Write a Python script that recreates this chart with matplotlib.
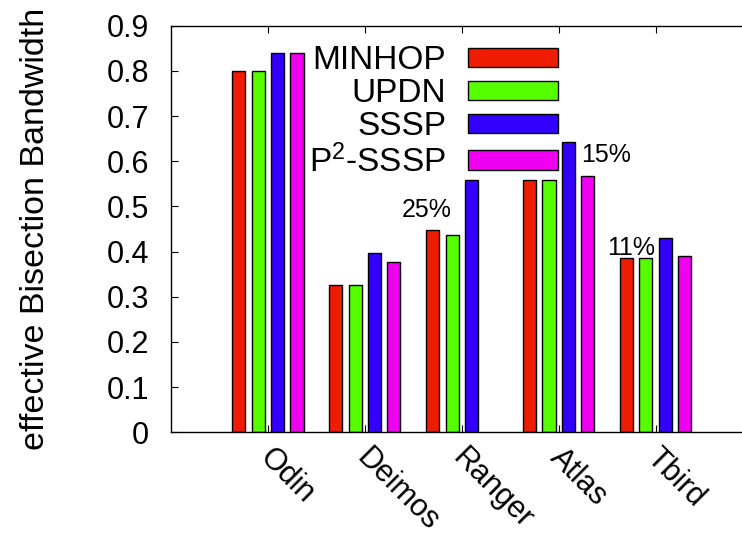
import numpy as np
import matplotlib
matplotlib.use("Agg")
import matplotlib.pyplot as plt
import matplotlib.transforms as mtransforms

plt.rcParams['font.family'] = ['Liberation Sans', 'DejaVu Sans']
plt.rcParams['mathtext.fontset'] = 'custom'
plt.rcParams['mathtext.rm'] = 'Liberation Sans'
plt.rcParams['mathtext.it'] = 'Liberation Sans:italic'

#
# -1- Effective bisection bandwidth per system and routing algorithm
#

systems = ['Odin', 'Deimos', 'Ranger', 'Atlas', 'Tbird']
minhop = [0.80, 0.325, 0.447, 0.558, 0.386]
updn   = [0.80, 0.325, 0.437, 0.558, 0.386]
sssp   = [0.84, 0.397, 0.558, 0.643, 0.431]
p2sssp = [0.84, 0.377, np.nan, 0.567, 0.391]   # no P2-SSSP run on Ranger

series = [minhop, updn, sssp, p2sssp]
names  = ['MINHOP', 'UPDN', 'SSSP', r'P$^2$-SSSP']
colors = ['#ee1c00', '#55ff00', '#3300ff', '#f000f0']

# gain of SSSP over the best of MINHOP/UPDN
gains = ['25%', '15%', '11%']
gainAt = [(2 - 0.10, 0.477, 'right'), (3 + 0.23, 0.598, 'left'), (4 - 0.50, 0.392, 'left')]

#
# -2- Grouped bars
#

fig = plt.figure(figsize=(7.42, 5.38), dpi=100)
ax = fig.add_axes([0.2305, 0.1965, 0.7836, 0.7558])

x = np.arange(len(systems))
w = 0.135
for i, (vals, name, c) in enumerate(zip(series, names, colors)):
  ax.bar(x + (i - 1.5)*0.2, vals, w, color=c, edgecolor='black',
         linewidth=1.0, label=name, zorder=2)

for txt, (gx, gy, ha) in zip(gains, gainAt):
  ax.text(gx, gy, txt, fontsize=18, ha=ha, va='baseline')

ax.set_xlim(-1, 5)
ax.set_ylim(0, 0.9)
ax.set_yticks(np.arange(0, 0.91, 0.1))
ax.set_yticklabels(['0'] + ['%.1f' % v for v in np.arange(0.1, 0.91, 0.1)])
ax.set_xticks(x)
ax.set_xticklabels(systems, rotation=-45, ha='left', va='center',
                   rotation_mode='anchor', fontsize=22)
ax.tick_params(axis='y', direction='in', length=5, width=0.8, pad=16,
               labelsize=22, right=False)
ax.tick_params(axis='x', direction='in', length=5, width=0.8, pad=15,
               top=True, bottom=True)
shift = mtransforms.ScaledTranslation(-3/72, 0, fig.dpi_scale_trans)
for lab in ax.get_xticklabels():
  lab.set_transform(lab.get_transform() + shift)

for s in ['left', 'top', 'bottom']:
  ax.spines[s].set_linewidth(1.0)
ax.spines['right'].set_visible(False)

ax.set_ylabel('effective Bisection Bandwidth', fontsize=24.5, labelpad=40)

ax.legend(loc='upper right', bbox_to_anchor=(0.665, 0.952), frameon=False,
          markerfirst=False, fontsize=24, handlelength=2.7, handleheight=0.52,
          handletextpad=0.65, labelspacing=0.06, borderpad=0, borderaxespad=0)

plt.savefig('out.png', dpi=100)
